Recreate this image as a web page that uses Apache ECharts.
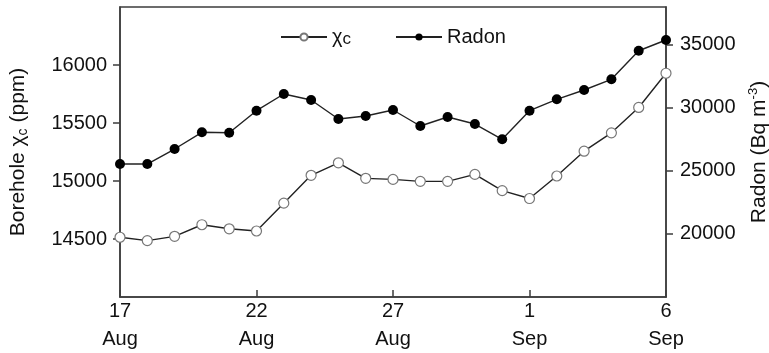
<!DOCTYPE html>
<html>
<head>
<meta charset="utf-8">
<script src="https://cdn.jsdelivr.net/npm/echarts@6/dist/echarts.min.js"></script>
<style>
html,body{margin:0;padding:0;background:#fff;}
#c{width:769px;height:353px;}
</style>
</head>
<body>
<div id="c"></div>
<script>
var dates = ['17 Aug','18 Aug','19 Aug','20 Aug','21 Aug','22 Aug','23 Aug','24 Aug','25 Aug','26 Aug','27 Aug','28 Aug','29 Aug','30 Aug','31 Aug','1 Sep','2 Sep','3 Sep','4 Sep','5 Sep','6 Sep'];
var chiValues = [14515,14486,14523,14623,14588,14569,14809,15049,15157,15023,15014,14997,14997,15057,14917,14849,15043,15257,15415,15634,15929];
var radonValues = [25547,25547,26737,28061,28030,29774,31098,30623,29116,29354,29830,28561,29275,28719,27506,29774,30678,31416,32264,34532,35381];
var leftTicks = [14500,15000,15500,16000];
var rightTicks = [20000,25000,30000,35000];

var FONT = 'Liberation Sans, Arial, sans-serif';
var AX = '#3c3c3c';
function plain(v){ return String(v); }
var chart = echarts.init(document.getElementById('c'), null, {renderer:'canvas'});
chart.setOption({
  animation:false,
  backgroundColor:'#fff',
  textStyle:{fontFamily:FONT},
  grid:{left:120,right:103,top:7,bottom:56,containLabel:false,outerBoundsMode:'none',show:true,borderColor:AX,borderWidth:1.5,backgroundColor:'transparent'},
  legend:{
    left:275, top:18, itemWidth:46, itemHeight:9, itemGap:44,
    data:['χc','Radon'],
    formatter:function(n){ return n==='χc' ? '{g|χ}{s|c}' : '{g|Radon}'; },
    textStyle:{color:'#111',fontFamily:FONT,fontSize:20,
      rich:{g:{fontSize:20,fontFamily:FONT,color:'#111',lineHeight:22,verticalAlign:'middle'},
            s:{fontSize:17,fontFamily:FONT,color:'#111',lineHeight:22,verticalAlign:'bottom',padding:[8,0,0,0]}}}
  },
  xAxis:{
    type:'category', data:dates, boundaryGap:false,
    axisLine:{lineStyle:{color:AX,width:1.5}},
    axisTick:{inside:true,length:7,interval:4,lineStyle:{color:AX,width:1.5}},
    axisLabel:{interval:4,margin:0,color:'#111',fontSize:20,fontFamily:FONT,lineHeight:28,
      formatter:function(v){return v.replace(' ','\n');}},
    splitLine:{show:false}
  },
  yAxis:[{
    type:'value', min:14000, max:16500, interval:500, position:'left',
    axisLine:{show:true,lineStyle:{color:AX,width:1.5}},
    axisTick:{show:true,length:7,customValues:leftTicks,lineStyle:{color:AX,width:1.5}},
    axisLabel:{customValues:leftTicks,margin:13,color:'#111',fontSize:20,fontFamily:FONT,formatter:plain},
    splitLine:{show:false},
    name:'{g|Borehole χ}{s|c}{g| (ppm)}', nameLocation:'middle', nameRotate:90, nameGap:90,
    nameTextStyle:{color:'#111',fontFamily:FONT,fontSize:21,
      rich:{g:{fontSize:21,fontFamily:FONT,color:'#111',lineHeight:24,verticalAlign:'middle'},
            s:{fontSize:14,fontFamily:FONT,color:'#111',lineHeight:24,verticalAlign:'bottom'}}}
  },{
    type:'value', min:15000, max:38000, interval:5000, position:'right',
    axisLine:{show:true,lineStyle:{color:AX,width:1.5}},
    axisTick:{show:true,length:7,customValues:rightTicks,lineStyle:{color:AX,width:1.5}},
    axisLabel:{customValues:rightTicks,margin:14,color:'#111',fontSize:20,fontFamily:FONT,formatter:plain},
    splitLine:{show:false},
    name:'{g|Radon (Bq m}{p|-3}{g|)}', nameLocation:'middle', nameRotate:90, nameGap:79,
    nameTextStyle:{color:'#111',fontFamily:FONT,fontSize:21,
      rich:{g:{fontSize:21,fontFamily:FONT,color:'#111',lineHeight:26,verticalAlign:'middle'},
            p:{fontSize:13,fontFamily:FONT,color:'#111',lineHeight:26,verticalAlign:'top'}}}
  }],
  series:[{
    name:'χc', type:'line', yAxisIndex:0, data:chiValues,
    symbol:'circle', symbolSize:10, showAllSymbol:true,
    lineStyle:{color:'#222',width:1.4},
    itemStyle:{color:'#fff',borderColor:'#777',borderWidth:1.2},
    z:3
  },{
    name:'Radon', type:'line', yAxisIndex:1, data:radonValues,
    symbol:'circle', symbolSize:10, showAllSymbol:true,
    lineStyle:{color:'#222',width:1.4},
    itemStyle:{color:'#000',borderColor:'#000',borderWidth:0},
    z:3
  }]
});
</script>
</body>
</html>
